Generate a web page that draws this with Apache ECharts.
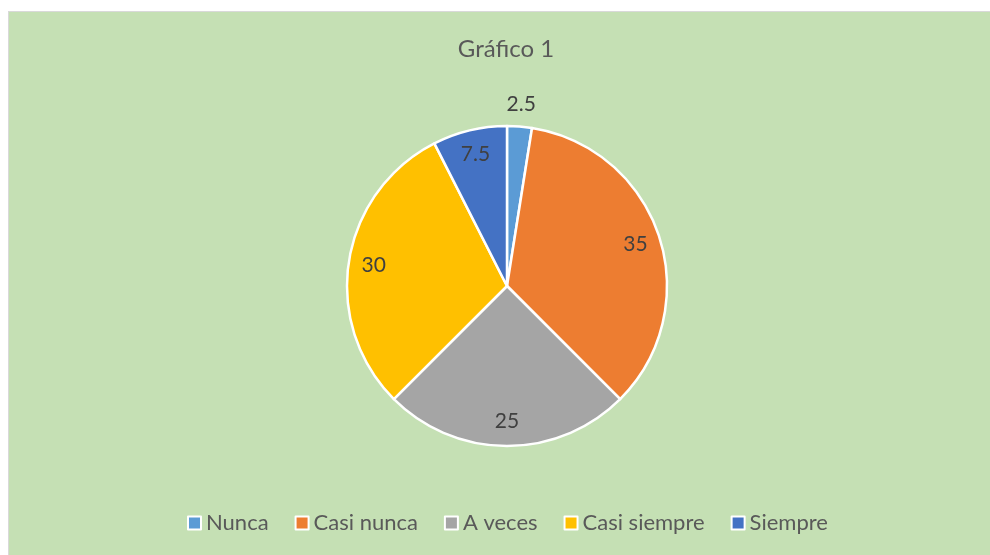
<!DOCTYPE html>
<html>
<head>
<meta charset="utf-8">
<script src="https://cdn.jsdelivr.net/npm/echarts@6/dist/echarts.min.js"></script>
<style>
	body { margin: 0; background: #fff; }
	#bg { position: absolute; left: 8px; top: 11px; right: 0; bottom: 0; background: #C5E0B4; border-left: 1px solid #D9D9D9; border-top: 1px solid #D9D9D9; }
	#chart { position: absolute; left: 0; top: 0; width: 990px; height: 555px; }
</style>
</head>
<body>
<div id="bg"></div>
<div id="chart"></div>
<script>
var categories = ['Nunca', 'Casi nunca', 'A veces', 'Casi siempre', 'Siempre'];
var values = [2.5, 35, 25, 30, 7.5];
var colors = ['#5B9BD5', '#ED7D31', '#A5A5A5', '#FFC000', '#4472C4'];

var font = 'Lato, "Open Sans", sans-serif';
var center = [507, 286];
var R = 160;

// datos base
function makeData(labelFor, hidden) {
	return categories.map(function (name, i) {
		return {
			name: name,
			value: values[i],
			itemStyle: { color: hidden ? 'rgba(0,0,0,0)' : colors[i] },
			label: { show: labelFor(i) }
		};
	});
}

var labelStyle = {
	position: 'inside',
	fontFamily: font, fontSize: 21, color: '#404040',
	formatter: '{c}'
};

var myChart = echarts.init(document.getElementById('chart'));
myChart.setOption({
	color: colors,
	title: {
		text: 'Gráfico 1',
		left: 501,
		top: 32,
		textAlign: 'center',
		textStyle: { fontFamily: font, fontSize: 24, fontWeight: 'normal', color: '#595959' }
	},
	legend: {
		data: categories,
		top: 512,
		left: 187,
		padding: 0,
		itemWidth: 13,
		itemHeight: 13,
		itemGap: 26,
		icon: 'rect',
		itemStyle: { borderColor: '#fff', borderWidth: 2 },
		textStyle: { fontFamily: font, fontSize: 22, color: '#595959' }
	},
	series: [
		{
			// pastel principal
			type: 'pie',
			center: center,
			radius: R,
			startAngle: 90,
			clockwise: true,
			silent: true,
			label: { show: false },
			labelLine: { show: false },
			itemStyle: { borderColor: '#fff', borderWidth: 2.5 },
			data: makeData(function () { return false; }, false)
		},
		{
			// etiquetas interiores
			type: 'pie',
			center: center,
			radius: [104, R],
			startAngle: 90,
			silent: true,
			label: labelStyle,
			labelLine: { show: false },
			data: makeData(function (i) { return i !== 0; }, true)
		},
		{
			// etiqueta exterior de 2.5
			type: 'pie',
			center: center,
			radius: [R, R + 38],
			startAngle: 90,
			silent: true,
			label: labelStyle,
			labelLine: { show: false },
			data: makeData(function (i) { return i === 0; }, true)
		}
	]
});
</script>
</body>
</html>
